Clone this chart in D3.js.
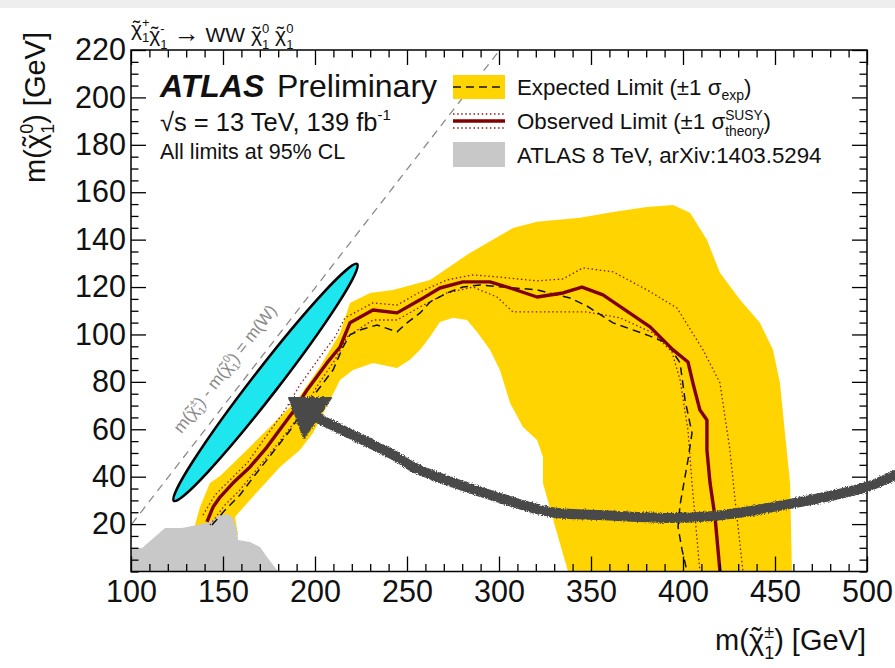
<!DOCTYPE html>
<html>
<head>
<meta charset="utf-8">
<script src="https://cdn.jsdelivr.net/npm/d3@7"></script>
<style>
  body { margin: 0; background: #fff; }
  svg text { font-family: "Liberation Sans", Arial, Helvetica, sans-serif; fill: #111; }
</style>
</head>
<body>
<svg id="chart" width="895" height="668"></svg>
<script>
// ---- axis ticks (GeV) ----
const xMajorTicks = [100, 150, 200, 250, 300, 350, 400, 450, 500];
const yMajorTicks = [20, 40, 60, 80, 100, 120, 140, 160, 180, 200, 220];
const xMinorStep = 10;
const yMinorStep = 5;

// ---- expected limit ±1 sigma band: [m(chargino), m(neutralino)] ----
const expectedBand = [
  [133.7, 15.4], [134.8, 19.6], [137.5, 27.2], [142.9, 37.3], [148.4, 40.3], [163.0, 51.3],
  [175.5, 61.0], [190.2, 72.4], [202.7, 86.3], [213.6, 100.6], [219.0, 113.3], [229.9, 117.5],
  [242.4, 118.8], [262.5, 123.0], [284.2, 134.4], [307.6, 144.9], [320.7, 147.5], [344.0, 149.2],
  [362.0, 151.7], [380.4, 153.8], [394.6, 154.6], [403.8, 151.3], [413.0, 139.9], [420.1, 126.0],
  [431.0, 114.6], [441.8, 104.9], [448.9, 93.5], [452.7, 79.5], [455.4, 58.4], [458.2, 37.3],
  [459.2, 0], [337.5, 0], [331.5, 16.2], [323.9, 37.3], [323.9, 48.3], [320.7, 55.5],
  [313.0, 61.0], [306.0, 71.1], [300.5, 85.0], [295.1, 93.5], [288.0, 101.1], [282.6, 106.1],
  [275.0, 107.0], [267.9, 105.3], [262.5, 99.0], [257.1, 93.5], [251.6, 89.3], [244.6, 85.9],
  [231.5, 88.0], [220.7, 85.0], [213.6, 80.8], [208.2, 72.4], [198.9, 58.4], [191.8, 51.3],
  [181.0, 44.1], [164.7, 30.2], [156.5, 23.0], [158.2, 15.4]
];

// ---- expected limit (median) ----
const expectedLimit = [
  [144.0, 19.6], [151.1, 25.9], [159.2, 32.3], [167.4, 40.7], [177.2, 50.4], [186.4, 59.5],
  [197.3, 72.2], [209.8, 85.0], [215.2, 94.7], [219.0, 99.8], [224.5, 101.9], [233.7, 104.0],
  [244.6, 101.1], [250.0, 104.9], [257.1, 109.1], [262.5, 113.7], [271.7, 117.5], [280.4, 120.0],
  [289.7, 120.9], [302.2, 120.0], [320.7, 118.8], [338.6, 115.4], [347.8, 112.0], [362.0, 104.9],
  [380.4, 99.8], [391.3, 96.4], [398.4, 88.0], [401.1, 72.4], [404.9, 58.4], [402.7, 47.0],
  [398.4, 28.1], [397.3, 18.8], [399.5, 9.1], [402.2, 0]
];

// ---- observed limit and its ±1 sigma(theory) variations ----
const observedLimit = [
  [141.3, 20.9], [144.6, 27.2], [148.4, 31.4], [155.4, 37.3], [164.7, 44.1], [173.9, 52.5],
  [188.0, 67.3], [195.7, 76.6], [206.5, 88.0], [213.6, 94.7], [219.0, 104.9], [231.5, 110.3],
  [244.6, 109.1], [257.1, 114.6], [267.9, 119.6], [280.4, 122.2], [295.1, 122.2], [306.0, 119.6],
  [320.7, 115.8], [334.8, 117.5], [345.1, 120.0], [356.5, 116.7], [382.1, 103.2], [394.6, 93.5],
  [402.7, 88.4], [405.4, 79.5], [409.2, 68.1], [413.0, 63.9], [413.0, 51.3], [414.7, 37.3],
  [417.4, 23.0], [420.1, 0]
];
const observedTheoryUp = [
  [139.1, 23.8], [145.7, 32.3], [153.8, 38.6], [163.6, 46.2], [171.2, 54.6], [183.7, 68.1],
  [191.8, 78.7], [202.7, 90.5], [210.9, 99.0], [216.3, 107.0], [231.5, 113.3], [244.6, 112.4],
  [257.1, 117.9], [271.7, 123.0], [285.9, 125.1], [298.9, 124.3], [320.7, 122.6], [334.8, 123.4],
  [345.7, 128.1], [362.0, 126.4], [380.4, 118.8], [396.7, 111.2], [410.9, 93.5], [420.1, 79.5],
  [425.5, 51.3], [428.3, 30.2], [432.6, 0]
];
const observedTheoryDown = [
  [142.9, 19.6], [151.1, 28.1], [159.2, 34.4], [169.0, 43.7], [179.3, 53.4], [191.8, 66.0],
  [201.6, 78.7], [210.9, 89.3], [217.4, 99.0], [231.5, 106.1], [244.6, 106.1], [257.1, 111.6],
  [271.7, 117.5], [285.9, 120.0], [298.9, 115.8], [307.6, 109.5], [347.8, 109.5], [365.8, 107.0],
  [383.7, 100.6], [394.0, 92.6], [398.4, 80.8], [402.7, 59.7], [404.9, 37.3], [409.2, 0]
];

// ---- ATLAS 8 TeV excluded region ----
const atlas8TeV = [
  [100, 0], [100, 9.9], [106, 9.9], [118.5, 18.4], [127.7, 18.4], [135.9, 19.6], [143.0, 20.9],
  [148.4, 23.8], [152.2, 24.3], [155.4, 22.6], [157.6, 17.5], [158.2, 13.3], [164.7, 12.4],
  [170.1, 10.3], [173.9, 6.1], [179.3, 0.6], [180, 0]
];

// ---- kinematic boundary m(chargino) - m(neutralino) = m(W) ----
const mW = 80.4;
const wBoundaryX = [100.4, 300.4];

// ---- highlighted region (ellipse) and annotation arrow ----
const ellipseEnds = [[122.8, 29.3], [223.4, 130.2]];
const ellipseHalfWidthPx = 13;
const arrowCurve = [
  [201.1, 64.8], [226.1, 55.5], [244.6, 48.3], [253.3, 44.1], [300.5, 31.0], [327.7, 25.1],
  [354.9, 23.8], [391.3, 22.6], [416.3, 23.4], [458.2, 28.5], [500, 35.7], [515.2, 40.7]
];
const arrowHead = [[185.9, 73.2], [208.7, 73.2], [194.0, 56.3]];

// ---- colours ----
const C = {
  band: "#ffd400", observed: "#800000", theory: "#8b1a1a", expected: "#111",
  atlas8: "#c8c8c8", ellipse: "#1ee6ee", arrow: "#4a4a4a", boundary: "#8a8a8a"
};

const W = 895, H = 668;
const plot = { left: 131, right: 867, top: 50, bottom: 571.5 };
const x = d3.scaleLinear().domain([100, 500]).range([plot.left, plot.right]);
const y = d3.scaleLinear().domain([0, 220]).range([plot.bottom, plot.top]);

const svg = d3.select("#chart");
const defs = svg.append("defs");
defs.append("clipPath").attr("id", "plotClip").append("rect")
  .attr("x", plot.left).attr("y", plot.top)
  .attr("width", plot.right - plot.left).attr("height", plot.bottom - plot.top);
const rough = defs.append("filter").attr("id", "rough")
  .attr("x", "-5%").attr("y", "-20%").attr("width", "110%").attr("height", "140%");
rough.append("feTurbulence").attr("type", "fractalNoise").attr("baseFrequency", 0.9)
  .attr("numOctaves", 2).attr("seed", 4).attr("result", "noise");
rough.append("feDisplacementMap").attr("in", "SourceGraphic").attr("in2", "noise")
  .attr("scale", 4).attr("xChannelSelector", "R").attr("yChannelSelector", "G");

svg.append("rect").attr("width", W).attr("height", H).attr("fill", "#fff");
svg.append("rect").attr("width", W).attr("height", 8).attr("fill", "#eeeeee");

const line = d3.line().x(d => x(d[0])).y(d => y(d[1]));
const area = svg.append("g").attr("clip-path", "url(#plotClip)");

// expected band
area.append("path").attr("d", line(expectedBand) + "Z").attr("fill", C.band);

// W boundary
const wLine = wBoundaryX.map(v => [v, v - mW]);
area.append("path").attr("d", line(wLine)).attr("fill", "none")
  .attr("stroke", C.boundary).attr("stroke-width", 1.3).attr("stroke-dasharray", "8,6");

// ATLAS 8 TeV region
area.append("path").attr("d", line(atlas8TeV) + "Z").attr("fill", C.atlas8);

// limit contours
area.append("path").attr("d", line(observedTheoryUp)).attr("fill", "none")
  .attr("stroke", C.theory).attr("stroke-width", 1.3).attr("stroke-dasharray", "1.5,2.6");
area.append("path").attr("d", line(observedTheoryDown)).attr("fill", "none")
  .attr("stroke", C.theory).attr("stroke-width", 1.3).attr("stroke-dasharray", "1.5,2.6");
area.append("path").attr("d", line(expectedLimit)).attr("fill", "none")
  .attr("stroke", C.expected).attr("stroke-width", 1.5).attr("stroke-dasharray", "8,5");
area.append("path").attr("d", line(observedLimit)).attr("fill", "none")
  .attr("stroke", C.observed).attr("stroke-width", 3.4).attr("stroke-linejoin", "round");

// ---- axes: inward ticks on all four sides ----
function minorValues(lo, hi, step, majors) {
  const out = [];
  for (let v = lo; v <= hi + 1e-9; v += step) if (!majors.includes(v)) out.push(v);
  return out;
}
const xMinor = minorValues(100, 500, xMinorStep, xMajorTicks);
const yMinor = minorValues(0, 220, yMinorStep, yMajorTicks);

function drawAxis(axisFn, scale, pos, vals, size, pad) {
  const a = axisFn(scale).tickValues(vals).tickSizeInner(-size).tickSizeOuter(0)
    .tickPadding(pad || 0).tickFormat(pad ? d3.format("d") : "");
  const g = svg.append("g").attr("transform", pos).call(a);
  g.select(".domain").remove();
  g.selectAll(".tick line").attr("stroke", "#000").attr("stroke-width", 1.3);
  g.selectAll(".tick text").attr("font-size", 30.5).attr("fill", "#111")
    .attr("font-family", "Liberation Sans, Arial, sans-serif");
  return g;
}
drawAxis(d3.axisBottom, x, `translate(0,${plot.bottom})`, xMajorTicks, 15, 9);
drawAxis(d3.axisBottom, x, `translate(0,${plot.bottom})`, xMinor, 7.5, 0);
drawAxis(d3.axisTop, x, `translate(0,${plot.top})`, xMajorTicks, 15, 0);
drawAxis(d3.axisTop, x, `translate(0,${plot.top})`, xMinor, 7.5, 0);
drawAxis(d3.axisLeft, y, `translate(${plot.left},0)`, yMajorTicks, 15, 5);
drawAxis(d3.axisLeft, y, `translate(${plot.left},0)`, yMinor, 7.5, 0);
drawAxis(d3.axisRight, y, `translate(${plot.right},0)`, yMajorTicks, 15, 0);
drawAxis(d3.axisRight, y, `translate(${plot.right},0)`, yMinor, 7.5, 0);

svg.append("rect").attr("x", plot.left).attr("y", plot.top)
  .attr("width", plot.right - plot.left).attr("height", plot.bottom - plot.top)
  .attr("fill", "none").attr("stroke", "#000").attr("stroke-width", 1.5);

// ---- text helpers: tilde-chi with stacked super/subscripts ----
// The tilde is placed over the base glyph with per-character offsets in one tspan.
function accentBase(t, base, fs) {
  const c = t.append("tspan").text(base);
  const wc = c.node().getComputedTextLength();
  c.text(base + "\u02DC");
  const wt = c.node().getComputedTextLength() - wc;
  c.attr("dx", `0 ${-(wc + wt) / 2}`).attr("dy", `0 ${-fs * 0.06}`);
  return { dx: (wc - wt) / 2, dy: fs * 0.06 };
}
function scripts(t, sup, sub, fs, pre) {
  const s = t.append("tspan").attr("font-size", fs * 0.62)
    .attr("dx", pre ? pre.dx : 0).attr("dy", (pre ? pre.dy : 0) - fs * 0.42).text(sup);
  const ws = s.node().getComputedTextLength();
  const b = t.append("tspan").attr("font-size", fs * 0.62).attr("dx", -ws).attr("dy", fs * 0.72).text(sub);
  const wb = b.node().getComputedTextLength();
  return { dy: -fs * 0.30, dx: Math.max(0, ws - wb) };
}
function chi(t, sup, sub, fs) {
  const pre = accentBase(t, "\u03C7", fs);
  return scripts(t, sup, sub, fs, pre);
}
function stacked(t, base, sup, sub, fs) {
  t.append("tspan").text(base);
  return scripts(t, sup, sub, fs, null);
}
function after(t, text, r) {
  return t.append("tspan").attr("dy", r.dy).attr("dx", r.dx).text(text);
}

// axis titles
{
  const fs = 29;
  const t = svg.append("text").attr("x", 866).attr("y", 650).attr("font-size", fs).attr("text-anchor", "end");
  t.append("tspan").text("m(");
  const r = chi(t, "\u00B1", "1", fs);
  after(t, ") [GeV]", r);
}
{
  const fs = 29;
  const t = svg.append("text").attr("transform", "translate(45,32) rotate(-90)")
    .attr("font-size", fs).attr("text-anchor", "end");
  t.append("tspan").text("m(");
  const r = chi(t, "0", "1", fs);
  after(t, ") [GeV]", r);
}

// process label
{
  const fs = 21;
  const t = svg.append("text").attr("x", 131).attr("y", 36).attr("font-size", fs);
  let r = chi(t, "+", "1", fs);
  after(t, "", r);
  r = chi(t, "-", "1", fs);
  after(t, " ", r);
  t.append("tspan").attr("font-size", fs * 1.25).text("\u2192");
  t.append("tspan").text(" WW ");
  r = chi(t, "0", "1", fs);
  after(t, " ", r);
  chi(t, "0", "1", fs);
}

// ATLAS label
svg.append("text").attr("x", 160).attr("y", 97).attr("font-size", 32)
  .attr("font-weight", "bold").attr("font-style", "italic").text("ATLAS");
svg.append("text").attr("x", 277).attr("y", 97).attr("font-size", 32).text("Preliminary");
{
  const t = svg.append("text").attr("x", 160).attr("y", 131).attr("font-size", 25.5);
  t.append("tspan").text("\u221As = 13 TeV, 139 fb");
  t.append("tspan").attr("font-size", 15).attr("dy", -11).text("-1");
}
svg.append("text").attr("x", 160).attr("y", 159).attr("font-size", 21.5).text("All limits at 95% CL");

// ---- legend ----
const lg = { x0: 453, x1: 505, tx: 517, fs: 22.3 };
svg.append("rect").attr("x", lg.x0).attr("y", 75).attr("width", lg.x1 - lg.x0).attr("height", 24).attr("fill", C.band);
svg.append("line").attr("x1", lg.x0).attr("x2", lg.x1).attr("y1", 87).attr("y2", 87)
  .attr("stroke", C.expected).attr("stroke-width", 1.5).attr("stroke-dasharray", "8,5");
{
  const t = svg.append("text").attr("x", lg.tx).attr("y", 95).attr("font-size", lg.fs);
  t.append("tspan").text("Expected Limit (\u00B11 \u03C3");
  t.append("tspan").attr("font-size", 14).attr("dy", 5).text("exp");
  t.append("tspan").attr("dy", -5).text(")");
}
[114, 128].forEach(yy => svg.append("line").attr("x1", lg.x0).attr("x2", lg.x1).attr("y1", yy).attr("y2", yy)
  .attr("stroke", C.theory).attr("stroke-width", 1.3).attr("stroke-dasharray", "1.5,2.6"));
svg.append("line").attr("x1", lg.x0).attr("x2", lg.x1).attr("y1", 121).attr("y2", 121)
  .attr("stroke", C.observed).attr("stroke-width", 3.4);
{
  const t = svg.append("text").attr("x", lg.tx).attr("y", 129).attr("font-size", lg.fs);
  t.append("tspan").text("Observed Limit (\u00B11 ");
  const r = stacked(t, "\u03C3", "SUSY", "theory", lg.fs);
  after(t, ")", r);
}
svg.append("rect").attr("x", lg.x0).attr("y", 142).attr("width", lg.x1 - lg.x0).attr("height", 25).attr("fill", C.atlas8);
svg.append("text").attr("x", lg.tx).attr("y", 163).attr("font-size", lg.fs).text("ATLAS 8 TeV, arXiv:1403.5294");

// ---- boundary annotation ----
{
  const p0 = [x(wLine[0][0]), y(wLine[0][1])], p1 = [x(wLine[1][0]), y(wLine[1][1])];
  const ang = Math.atan2(p1[1] - p0[1], p1[0] - p0[0]) * 180 / Math.PI;
  const fs = 17;
  const t = svg.append("text").attr("transform", `translate(${x(153.5)},${y(84)}) rotate(${ang})`)
    .attr("font-size", fs).attr("text-anchor", "middle").style("fill", "#8a8a8a");
  t.append("tspan").text("m(");
  let r = chi(t, "\u00B1", "1", fs);
  after(t, ") - m(", r);
  r = chi(t, "0", "1", fs);
  after(t, ") = m(W)", r);
}

// ---- ellipse ----
{
  const a = [x(ellipseEnds[0][0]), y(ellipseEnds[0][1])];
  const b = [x(ellipseEnds[1][0]), y(ellipseEnds[1][1])];
  const cx = (a[0] + b[0]) / 2, cy = (a[1] + b[1]) / 2;
  const rx = Math.hypot(b[0] - a[0], b[1] - a[1]) / 2 - 1.5;
  const ang = Math.atan2(b[1] - a[1], b[0] - a[0]) * 180 / Math.PI;
  svg.append("ellipse").attr("cx", 0).attr("cy", 0).attr("rx", rx).attr("ry", ellipseHalfWidthPx)
    .attr("transform", `translate(${cx},${cy}) rotate(${ang})`)
    .attr("fill", C.ellipse).attr("stroke", "#000").attr("stroke-width", 2.6);
}

// ---- arrow ----
{
  const g = svg.append("g").attr("filter", "url(#rough)");
  const curve = d3.line().x(d => x(d[0])).y(d => y(d[1])).curve(d3.curveCatmullRom.alpha(0.5));
  g.append("path").attr("d", curve(arrowCurve)).attr("fill", "none")
    .attr("stroke", C.arrow).attr("stroke-width", 10).attr("stroke-linecap", "round");
  g.append("path").attr("d", line(arrowHead) + "Z").attr("fill", C.arrow)
    .attr("stroke", C.arrow).attr("stroke-width", 2).attr("stroke-linejoin", "round");
}
</script>
</body>
</html>
